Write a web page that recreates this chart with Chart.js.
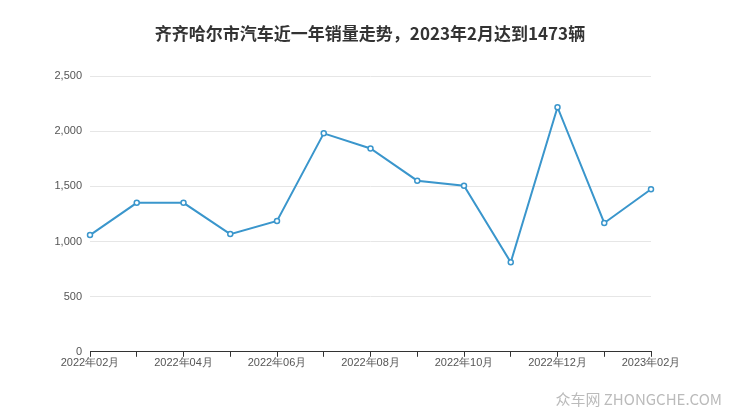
<!DOCTYPE html>
<html><head><meta charset="utf-8">
<script src="https://cdn.jsdelivr.net/npm/chart.js@4"></script>
<style>
body{margin:0;background:#fff;font-family:"Noto Sans CJK SC","Noto Sans",sans-serif;}
#wrap{position:relative;width:740px;height:417px;}
#title{position:absolute;left:0;top:20px;width:740px;text-align:center;font-size:17px;font-weight:bold;color:#333;}
#mark{position:absolute;right:18px;bottom:8px;color:#bbb;font-size:15px;}
</style></head><body>
<div id="wrap"><canvas id="c" width="740" height="417"></canvas>
<div id="title">齐齐哈尔市汽车近一年销量走势，2023年2月达到1473辆</div>
<div id="mark">众车网 ZHONGCHE.COM</div></div>
<script>
const months = ["2022年02月","2022年03月","2022年04月","2022年05月","2022年06月","2022年07月","2022年08月","2022年09月","2022年10月","2022年11月","2022年12月","2023年01月","2023年02月"];
const sales = [1058,1350,1350,1067,1186,1980,1843,1551,1505,812,2217,1168,1473];
const yTicks = [0,500,1000,1500,2000,2500];

new Chart(document.getElementById("c"), {
  type: "line",
  data: { labels: months, datasets: [{
    data: sales, borderColor: "#3a96cc", borderWidth: 2,
    pointBackgroundColor: "#fff", pointBorderColor: "#3a96cc", pointBorderWidth: 1.5,
    pointRadius: 2.5, tension: 0, fill: false
  }]},
  options: {
    responsive: false, animation: false,
    layout: { padding: { top: 76, right: 89, bottom: 47, left: 0 } },
    plugins: { legend: { display: false } },
    scales: {
      x: { offset: false,
        grid: { drawOnChartArea: false, drawTicks: true, tickLength: 5, color: "#333" },
        border: { color: "#333" },
        ticks: { color: "#555", font: { size: 11 }, maxRotation: 0, autoSkip: false, padding: 0,
          callback: (v, i) => i % 2 === 0 ? months[i] : "" } },
      y: { min: 0, max: 2500, afterFit: s => { s.width = 90; },
        afterBuildTicks: s => { s.ticks = yTicks.map(v => ({ value: v })); },
        grid: { color: "#e6e6e6", drawTicks: false }, border: { display: false },
        ticks: { color: "#555", font: { size: 11 }, padding: 8,
          callback: v => v.toLocaleString("en-US") } }
    }
  }
});
</script></body></html>
